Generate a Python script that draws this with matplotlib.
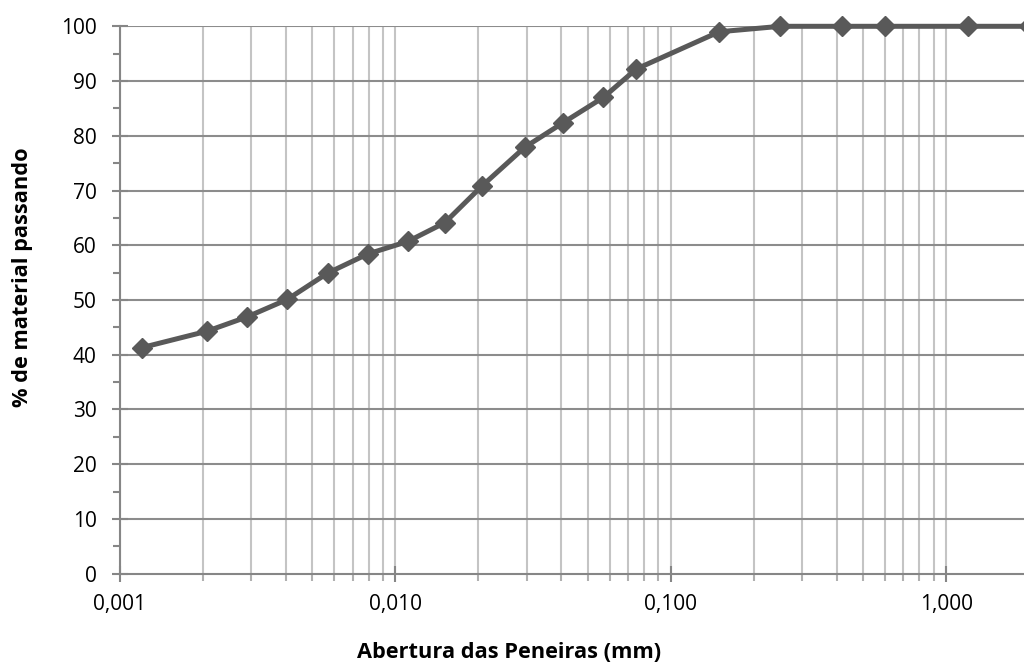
import matplotlib
matplotlib.use("Agg")
import matplotlib.pyplot as plt
from matplotlib.ticker import FixedLocator, FuncFormatter, NullFormatter, MultipleLocator

# Data
abertura_mm = [0.0012, 0.00207, 0.00289, 0.00405, 0.00567, 0.00793, 0.0111, 0.0151,
               0.0207, 0.0295, 0.0407, 0.0569, 0.075, 0.15, 0.25, 0.42, 0.6, 1.2, 2.0]
passando = [41.3, 44.3, 46.9, 50.1, 54.9, 58.4, 60.7, 64.1,
            70.9, 77.9, 82.4, 87.0, 92.2, 99.0, 100, 100, 100, 100, 100]
x_major = [0.001, 0.01, 0.1, 1.0]
x_major_labels = ["0,001", "0,010", "0,100", "1,000"]
y_ticks = list(range(0, 101, 10))

plt.rcParams['font.family'] = ['Open Sans', 'DejaVu Sans']

W, H = 1024, 666
fig = plt.figure(figsize=(W / 100, H / 100), dpi=100)
left, right, bottom, top = 120, 1029, 573.7, 26.3
ax = fig.add_axes([left / W, 1 - bottom / H, (right - left) / W, (bottom - top) / H])

axis_gray = '#868686'
ax.set_xscale('log')
ax.set_xlim(0.001, 2.0)
ax.set_ylim(0, 100)

# grid
minor_x = [m * 10.0 ** e for e in range(-3, 1) for m in range(2, 10)]
ax.xaxis.set_major_locator(FixedLocator(x_major))
ax.xaxis.set_minor_locator(FixedLocator(minor_x))
ax.xaxis.set_major_formatter(FuncFormatter(lambda v, p: x_major_labels[x_major.index(v)] if v in x_major else ''))
ax.xaxis.set_minor_formatter(NullFormatter())
ax.yaxis.set_major_locator(FixedLocator(y_ticks))
ax.yaxis.set_minor_locator(MultipleLocator(5))

for v in x_major + minor_x:
    ax.axvline(v, color='#c4c4c4', lw=1.5, zorder=0)
for v in y_ticks[1:]:
    ax.axhline(v, color='#8c8c8c', lw=1.5, zorder=0)

for s in ['top', 'right']:
    ax.spines[s].set_visible(False)
for s in ['left', 'bottom']:
    ax.spines[s].set_color(axis_gray)
    ax.spines[s].set_linewidth(1.5)

ax.tick_params(axis='both', which='major', color=axis_gray, width=1.5, labelsize=15,
               labelcolor='black')
ax.tick_params(axis='x', which='major', direction='inout', length=11.5, pad=9)
ax.tick_params(axis='x', which='minor', direction='out', length=5, width=1.5, color='#b0b0b0')
ax.tick_params(axis='y', which='major', direction='inout', length=11.5, pad=11)
ax.tick_params(axis='y', which='minor', direction='out', length=5, width=1.5, color=axis_gray)

ax.plot(abertura_mm, passando, color='#595959', lw=3.6, marker='D', markersize=10,
        markerfacecolor='#595959', markeredgecolor='#595959', clip_on=False, zorder=3)

ax.set_xlabel('Abertura das Peneiras (mm)', fontsize=15.7, fontweight='bold')
ax.set_ylabel('% de material passando', fontsize=15.7, fontweight='bold')
ax.xaxis.set_label_coords(509 / W, 1 - 652 / H, transform=fig.transFigure)
ax.yaxis.set_label_coords(23 / W, 1 - 277.5 / H, transform=fig.transFigure)
ax.xaxis.label.set_va('center')
ax.yaxis.label.set_va('center')

fig.savefig('out.png', dpi=100)
